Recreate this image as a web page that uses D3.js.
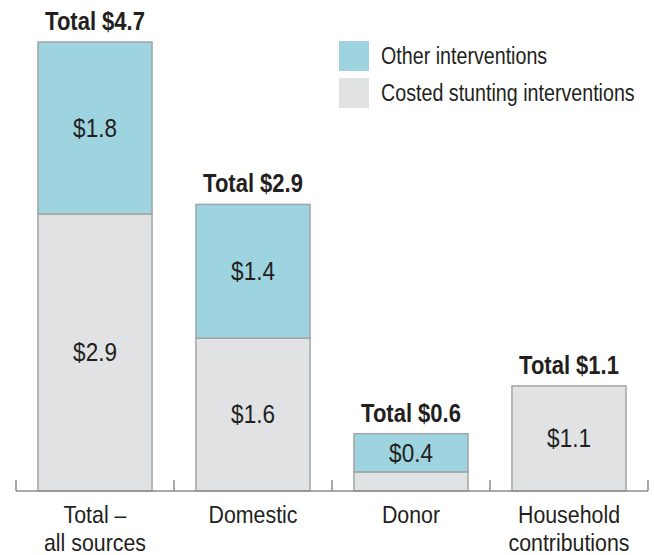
<!DOCTYPE html>
<html>
<head>
<meta charset="utf-8">
<script src="https://cdn.jsdelivr.net/npm/d3@7"></script>
<style>
  body { margin: 0; background: #fff; }
  svg { display: block; font-family: "Liberation Sans", Arial, sans-serif; }
</style>
</head>
<body>
<div id="chart"></div>
<script>
// values in US$ billions
var categories = ["Total \u2013|all sources", "Domestic", "Donor", "Household|contributions"];
var costed = [2.9, 1.6, 0.2, 1.1];      // costed stunting interventions
var other = [1.8, 1.4, 0.4, 0];         // other interventions
var totals = ["Total $4.7", "Total $2.9", "Total $0.6", "Total $1.1"];
var costedLabels = ["$2.9", "$1.6", "", "$1.1"];
var otherLabels = ["$1.8", "$1.4", "$0.4", ""];
var seriesNames = ["Other interventions", "Costed stunting interventions"];

var width = 654, height = 555;
var color = {other: "#9dd4df", costed: "#e1e2e4"};

// no condensed face installed, so squeeze the text sideways
function squeeze(sx){
    return function(sel){
        sel.attr("transform", function(d, i){
            var p = this.__pos;
            return "translate(" + p[0] + "," + p[1] + ") scale(" + sx + ",1)";
        });
    };
}
function pos(fx, fy){
    return function(sel){
        sel.each(function(d, i){ this.__pos = [fx(d, i), fy(d, i)]; });
    };
}

var svg = d3.select("#chart").append("svg")
    .attr("width", width)
    .attr("height", height);

var x = d3.scaleBand()
    .domain(categories)
    .range([16, 648])
    .paddingInner(0.278)
    .paddingOuter(0.139);

var y = d3.scaleLinear()
    .domain([0, 4.7])
    .range([491, 42]);

var data = categories.map(function(c, i){
    return {key: c, costed: costed[i], other: other[i], total: totals[i],
            cl: costedLabels[i], ol: otherLabels[i]};
});

var g = svg.selectAll(".bar")
    .data(data)
  .enter().append("g")
    .attr("class", "bar");

// costed (bottom) segment
g.append("rect")
    .attr("x", function(d){ return x(d.key); })
    .attr("width", x.bandwidth())
    .attr("y", function(d){ return y(d.costed); })
    .attr("height", function(d){ return y(0) - y(d.costed); })
    .attr("fill", color.costed)
    .attr("stroke", "#a3a4a6")
    .attr("stroke-width", 1.5);

// other (top) segment
g.filter(function(d){ return d.other > 0; }).append("rect")
    .attr("x", function(d){ return x(d.key); })
    .attr("width", x.bandwidth())
    .attr("y", function(d){ return y(d.costed + d.other); })
    .attr("height", function(d){ return y(d.costed) - y(d.costed + d.other); })
    .attr("fill", color.other)
    .attr("stroke", "#a3a4a6")
    .attr("stroke-width", 1.5);

function cx(d){ return x(d.key) + x.bandwidth() / 2; }

g.append("text")
    .call(pos(cx, function(d){ return y(d.costed / 2); }))
    .call(squeeze(0.9))
    .attr("dy", "0.35em")
    .attr("text-anchor", "middle")
    .style("font-size", "25px")
    .style("fill", "#231f20")
    .text(function(d){ return d.cl; });

g.append("text")
    .call(pos(cx, function(d){ return y(d.costed + d.other / 2); }))
    .call(squeeze(0.9))
    .attr("dy", "0.35em")
    .attr("text-anchor", "middle")
    .style("font-size", "25px")
    .style("fill", "#231f20")
    .text(function(d){ return d.ol; });

g.append("text")
    .call(pos(cx, function(d){ return y(d.costed + d.other) - 12; }))
    .call(squeeze(0.88))
    .attr("text-anchor", "middle")
    .style("font-size", "25px")
    .style("font-weight", "bold")
    .style("fill", "#231f20")
    .text(function(d){ return d.total; });

// baseline with ticks at band boundaries
var axis = svg.append("g").attr("class", "axis");
var edges = categories.map(function(c){ return x(c) - x.step() * x.paddingInner() / 2; });
edges.push(x.range()[1]);

axis.append("line")
    .attr("x1", x.range()[0]).attr("x2", x.range()[1])
    .attr("y1", y(0)).attr("y2", y(0))
    .attr("stroke", "#8c8c8e").attr("stroke-width", 1.5);

axis.selectAll(".tick")
    .data(edges)
  .enter().append("line")
    .attr("class", "tick")
    .attr("x1", function(d){ return d; }).attr("x2", function(d){ return d; })
    .attr("y1", y(0)).attr("y2", y(0) - 11)
    .attr("stroke", "#8c8c8e").attr("stroke-width", 1.5);

var labels = axis.selectAll(".cat")
    .data(categories)
  .enter().append("text")
    .attr("class", "cat")
    .call(pos(function(d){ return x(d) + x.bandwidth() / 2; }, function(){ return 523; }))
    .call(squeeze(0.89))
    .attr("text-anchor", "middle")
    .style("font-size", "24px")
    .style("fill", "#231f20");

labels.selectAll("tspan")
    .data(function(d){ return d.split("|"); })
  .enter().append("tspan")
    .attr("x", 0)
    .attr("dy", function(d, i){ return i ? 28 : 0; })
    .text(function(d){ return d; });

// legend
var legendColors = [color.other, color.costed];
var legend = svg.selectAll(".legend")
    .data(seriesNames)
  .enter().append("g")
    .attr("class", "legend")
    .attr("transform", function(d, i){ return "translate(339," + (41 + i * 37) + ")"; });

legend.append("rect")
    .attr("width", 30)
    .attr("height", 30)
    .attr("fill", function(d, i){ return legendColors[i]; });

legend.append("text")
    .call(pos(function(){ return 42; }, function(){ return 15; }))
    .call(squeeze(0.82))
    .attr("dy", "0.35em")
    .style("font-size", "24px")
    .style("fill", "#231f20")
    .text(function(d){ return d; });
</script>
</body>
</html>
